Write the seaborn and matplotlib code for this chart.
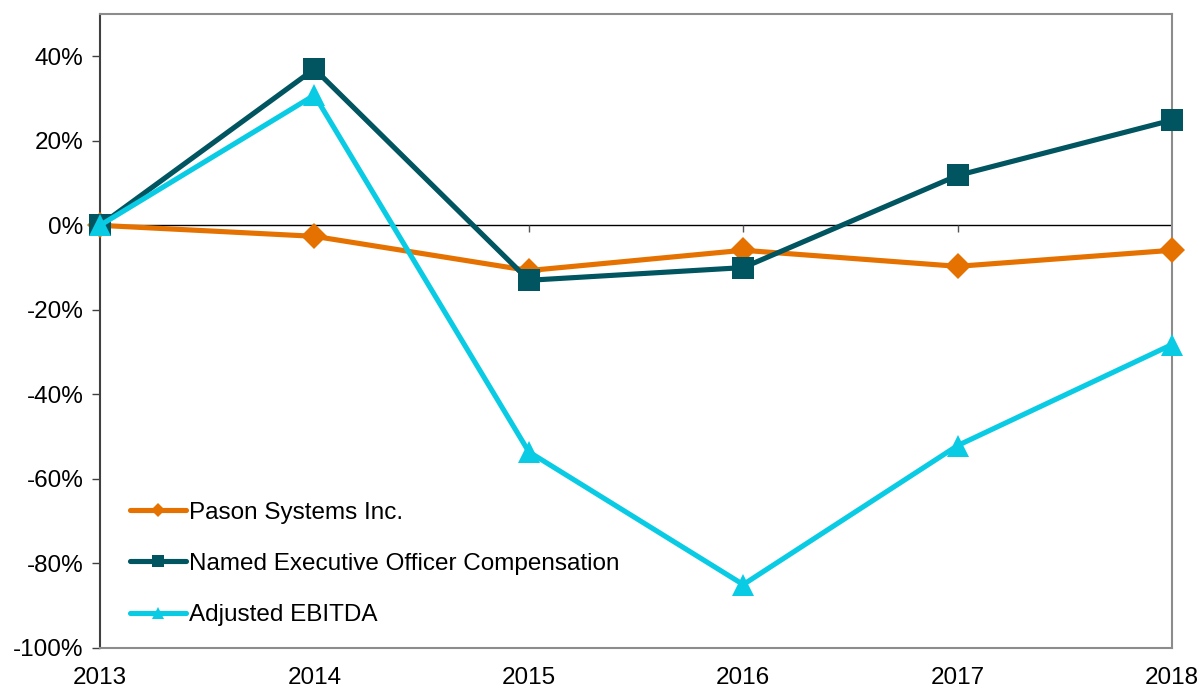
import matplotlib
matplotlib.use('Agg')
import matplotlib.pyplot as plt
from matplotlib.ticker import FuncFormatter
import pandas as pd
import seaborn as sns

sns.set_style('white')
plt.rcParams['font.family'] = ['Liberation Sans', 'DejaVu Sans']
plt.rcParams['text.color'] = 'black'
plt.rcParams['xtick.color'] = 'black'
plt.rcParams['ytick.color'] = 'black'

YEARS = [2013, 2014, 2015, 2016, 2017, 2018]
PASON = [0.0, -2.6, -10.7, -5.9, -9.7, -5.9]
NEO_COMP = [0.0, 37.0, -13.0, -10.0, 11.8, 24.9]
ADJ_EBITDA = [0.0, 30.8, -53.6, -85.0, -52.1, -28.2]

SERIES = ['Pason Systems Inc.', 'Named Executive Officer Compensation', 'Adjusted EBITDA']
COLORS = ['#E57200', '#005560', '#0ACBE4']
MARKERS = ['D', 's', '^']
SIZES = [13, 15.5, 16]

df = pd.DataFrame({
    'Year': YEARS * 3,
    'Change': PASON + NEO_COMP + ADJ_EBITDA,
    'Series': [s for s in SERIES for _ in YEARS],
})

fig = plt.figure(figsize=(12.01, 6.87), dpi=100)
ax = fig.add_axes([0.0833, 0.0568, 0.8926, 0.9228])

for name, color, marker, size in zip(SERIES, COLORS, MARKERS, SIZES):
    sns.lineplot(x='Year', y='Change', data=df[df['Series'] == name], ax=ax,
                 color=color, marker=marker, markersize=size, markeredgewidth=0,
                 linewidth=3.7, label=name, zorder=3, clip_on=False)

ax.axhline(0, color='black', linewidth=1, zorder=2)
ax.vlines(YEARS, -1.5, 0, color='#555555', linewidth=1, zorder=2)

ax.set_xlim(YEARS[0], YEARS[-1])
ax.set_ylim(-100, 50)
ax.set_xticks(YEARS)
ax.set_yticks(range(-100, 41, 20))
ax.yaxis.set_major_formatter(FuncFormatter(lambda v, p: f'{int(v)}%'))
ax.set_xlabel('')
ax.set_ylabel('')
ax.tick_params(axis='y', direction='out', length=6, width=1, color='#404040',
               labelsize=17.5, pad=6, left=True)
ax.tick_params(axis='x', length=0, labelsize=17.5, pad=14)

for side in ['top', 'right', 'bottom']:
    ax.spines[side].set_color('#8c8c8c')
    ax.spines[side].set_linewidth(1.5)
ax.spines['left'].set_color('#404040')
ax.spines['left'].set_linewidth(1.5)

ax.legend(loc='lower left', bbox_to_anchor=(0.008, 0.0), frameon=False,
          fontsize=17.5, handlelength=2.3, handletextpad=0.1, labelspacing=1.2,
          markerscale=0.55)

fig.savefig('out.png', dpi=100)
